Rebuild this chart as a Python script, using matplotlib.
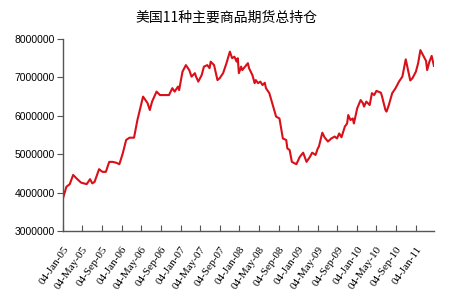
import datetime as dt
import matplotlib
matplotlib.use("Agg")
import matplotlib.pyplot as plt
import matplotlib.dates as mdates
from matplotlib.ticker import MultipleLocator, FuncFormatter

# -------------------------------------------------------
# Datos (semanas desde 04-Jan-05, total en contratos)
# -------------------------------------------------------
FECHA_INICIO = dt.date(2005, 1, 4)

SEMANAS = [
    0, 3, 6, 9, 12, 16, 21, 24, 26, 28, 32, 35, 38, 41, 44, 47, 50, 53, 56, 59,
    63, 66, 71, 75, 77, 79, 83, 86, 90, 94, 97, 99, 102, 103, 106, 109, 112, 114,
    117, 118, 120, 123, 125, 128, 130, 131, 134, 137, 139, 142, 145, 148, 150,
    152, 154, 155, 156, 158, 159, 164, 165, 168, 170, 171, 173, 175, 177, 179,
    180, 183, 186, 189, 192, 195, 198, 199, 201, 203, 207, 210, 213, 216, 219,
    221, 224, 226, 227, 230, 232, 235, 238, 241, 243, 245, 247, 250, 252, 253,
    255, 257, 258, 261, 264, 266, 267, 269, 272, 274, 276, 278, 282, 283, 286,
    287, 289, 292, 295, 298, 301, 304, 306, 308, 310, 313, 315, 317, 320, 322,
    323, 325, 327, 329,
]

TOTAL = [
    3.85, 4.15, 4.22, 4.46, 4.37, 4.26, 4.22, 4.35, 4.24, 4.28, 4.61, 4.54, 4.54,
    4.80, 4.80, 4.78, 4.74, 5.02, 5.37, 5.43, 5.43, 5.89, 6.50, 6.33, 6.15, 6.37,
    6.63, 6.54, 6.54, 6.54, 6.72, 6.63, 6.76, 6.67, 7.15, 7.32, 7.19, 7.02, 7.11,
    7.02, 6.89, 7.06, 7.28, 7.32, 7.24, 7.41, 7.32, 6.93, 6.98, 7.11, 7.37, 7.67,
    7.50, 7.54, 7.41, 7.50, 7.11, 7.28, 7.19, 7.37, 7.24, 7.06, 6.85, 6.93, 6.85,
    6.89, 6.80, 6.86, 6.72, 6.59, 6.28, 5.98, 5.93, 5.41, 5.37, 5.15, 5.11, 4.80,
    4.74, 4.93, 5.04, 4.80, 4.93, 5.04, 4.98, 5.15, 5.20, 5.56, 5.44, 5.33, 5.41,
    5.46, 5.41, 5.54, 5.44, 5.72, 5.80, 6.02, 5.89, 5.93, 5.80, 6.20, 6.41, 6.33,
    6.24, 6.37, 6.28, 6.59, 6.54, 6.65, 6.60, 6.50, 6.15, 6.11, 6.28, 6.59, 6.72,
    6.89, 7.02, 7.47, 7.19, 6.92, 6.98, 7.15, 7.37, 7.71, 7.54, 7.43, 7.19, 7.41,
    7.56, 7.30,
]

TITULO = "美国11种主要商品期货总持仓"

# Marcas del eje X: el dia 4 cada 4 meses, de Jan-05 a Jan-11
FECHAS_TICKS = [dt.date(2005 + (m // 12), m % 12 + 1, 4) for m in range(0, 73, 4)]

Y_MIN = 3000000
Y_MAX = 8000000
Y_PASO = 1000000

# -------------------------------------------------------
# Grafico
# -------------------------------------------------------
fechas = [FECHA_INICIO + dt.timedelta(weeks=s) for s in SEMANAS]
valores = [v * 1e6 for v in TOTAL]

plt.rcParams['font.family'] = ['Noto Sans CJK SC', 'DejaVu Sans']

fig = plt.figure(figsize=(4.5, 3.0), dpi=100)
ax = fig.add_axes([0.14, 0.23, 0.825, 0.64])

ax.plot(fechas, valores, color="#d8101a", linewidth=1.5)

ax.set_xlim(fechas[0], fechas[-1] + dt.timedelta(days=2))
ax.set_ylim(Y_MIN, Y_MAX)

ax.yaxis.set_major_locator(MultipleLocator(Y_PASO))
ax.yaxis.set_major_formatter(FuncFormatter(lambda v, p: "%d" % v))

ax.set_xticks([mdates.date2num(f) for f in FECHAS_TICKS])
ax.set_xticklabels([f.strftime("%d-%b-%y") for f in FECHAS_TICKS],
                   rotation=55, ha="right", va="top", rotation_mode="anchor",
                   family=["Liberation Serif", "DejaVu Serif"], fontsize=8)

for lbl in ax.get_yticklabels():
    lbl.set_family(["Liberation Sans", "DejaVu Sans"])
    lbl.set_fontsize(7.5)

for lado in ["top", "right"]:
    ax.spines[lado].set_visible(False)
for lado in ["left", "bottom"]:
    ax.spines[lado].set_color("#555555")
    ax.spines[lado].set_linewidth(1.0)

ax.tick_params(axis="x", direction="in", length=4, color="#555555", pad=10)
ax.tick_params(axis="y", direction="out", length=4, color="#555555", pad=2)

fig.text(0.503, 0.94, TITULO, ha="center", va="center", fontsize=10,
         fontweight="medium")

fig.savefig("out.png", dpi=100)
plt.close(fig)
